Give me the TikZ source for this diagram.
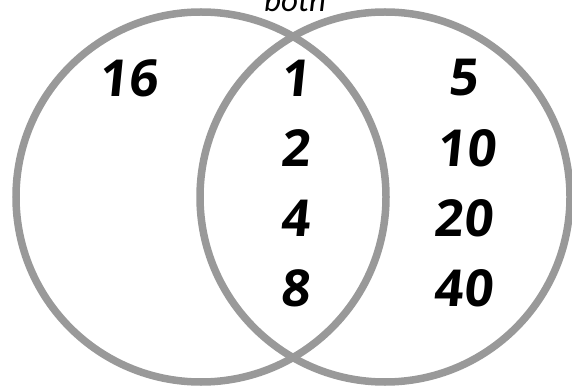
\documentclass[tikz,border=0pt]{standalone}
\usepackage{fontspec}
\setmainfont{Open Sans}
\newfontfamily\labelfont{Carlito}
\newfontfamily\numfont[FakeSlant=0.1]{Open Sans}
\definecolor{ringgray}{HTML}{999999}
\tikzset{
    ring/.style={draw=ringgray,line width=7.5pt},
    num/.style={font=\numfont\fontsize{51}{51}\selectfont\bfseries,inner sep=0pt}
}
\begin{document}
\begin{tikzpicture}[x=1pt,y=-1pt]
    \useasboundingbox (0,0) rectangle (572,387);

    % the two sets
    \draw[ring] (201,197) circle (185);
    \draw[ring] (385,197) circle (185);

    % label over the overlap
    \node[anchor=base,inner sep=0pt,font=\labelfont\fontsize{33}{33}\selectfont\itshape] (both) at (295,12) {both};

    % left only
    \node[num] (n16) at (128,78) {16};

    % both
    \node[num] (n1) at (295,78) {1};
    \node[num] (n2) at (295,148) {2};
    \node[num] (n4) at (295,218) {4};
    \node[num] (n8) at (295,288) {8};

    % right only
    \node[num] (n5) at (463,78) {5};
    \node[num] (n10) at (466,148) {10};
    \node[num] (n20) at (463,218) {20};
    \node[num] (n40) at (463,288) {40};
\end{tikzpicture}
\end{document}
